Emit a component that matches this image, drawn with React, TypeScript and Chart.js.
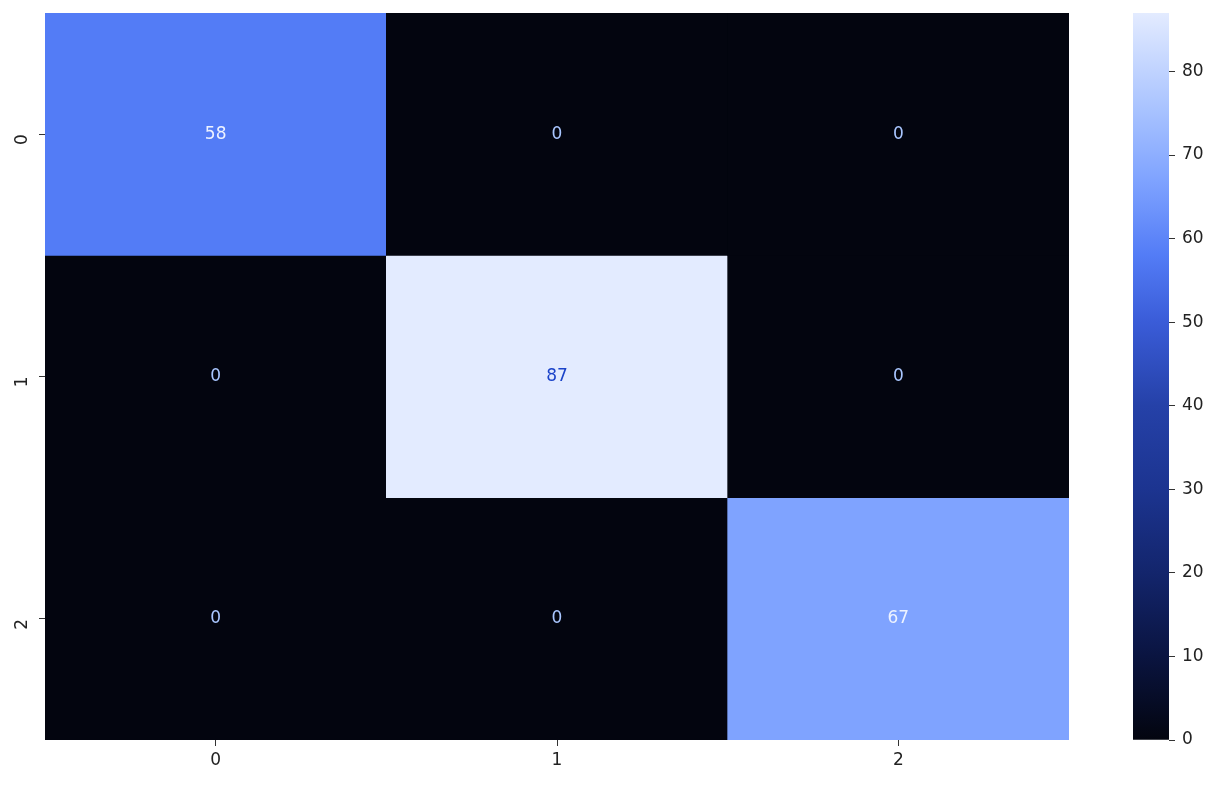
import React, { useEffect, useRef } from "react";
import { Chart, registerables } from "chart.js";

Chart.register(...registerables);

const colLabels = ["0", "1", "2"];
const rowLabels = ["0", "1", "2"];
const row0 = [58, 0, 0];
const row1 = [0, 87, 0];
const row2 = [0, 0, 67];
const matrix = [row0, row1, row2];
const vmin = 0;
const vmax = 87;
const cbarTicks = [0, 10, 20, 30, 40, 50, 60, 70, 80];
const cmapValues = [0, 10, 20, 30, 40, 50, 58, 67, 75, 87];
const cmapColors = [
  "#03050f",
  "#0a1440",
  "#13256c",
  "#1c3490",
  "#2541a8",
  "#3a5cd8",
  "#537cf6",
  "#7fa3ff",
  "#a6c1ff",
  "#e3ebff",
];

const FONT = "'DejaVu Sans', sans-serif";
const FS = 17;

function hexToRgb(h: string) {
  const n = parseInt(h.slice(1), 16);
  return [(n >> 16) & 255, (n >> 8) & 255, n & 255];
}
function colorFor(v: number) {
  if (v <= cmapValues[0]) return cmapColors[0];
  for (let i = 1; i < cmapValues.length; i++) {
    if (v <= cmapValues[i]) {
      const t = (v - cmapValues[i - 1]) / (cmapValues[i] - cmapValues[i - 1]);
      const a = hexToRgb(cmapColors[i - 1]);
      const b = hexToRgb(cmapColors[i]);
      const c = a.map((x, k) => Math.round(x + (b[k] - x) * t));
      return `rgb(${c[0]},${c[1]},${c[2]})`;
    }
  }
  return cmapColors[cmapColors.length - 1];
}
function textColorFor(v: number) {
  if (v === 0) return "#a9c6ff";
  if (v > 80) return "#1b43c9";
  return "#eef3ff";
}
function noPad(s: any) {
  s.paddingTop = 0;
  s.paddingBottom = 0;
  s.paddingLeft = 0;
  s.paddingRight = 0;
}

export default function App() {
  const mainRef = useRef<HTMLCanvasElement>(null);
  const cbRef = useRef<HTMLCanvasElement>(null);

  useEffect(() => {
    const annotPlugin = {
      id: "annot",
      afterDatasetsDraw(chart: any) {
        const ctx = chart.ctx;
        ctx.save();
        ctx.font = `${FS}px ${FONT}`;
        ctx.textAlign = "center";
        ctx.textBaseline = "middle";
        chart.data.datasets.forEach((ds: any, di: number) => {
          const meta = chart.getDatasetMeta(di);
          meta.data.forEach((el: any, ci: number) => {
            const v = matrix[di][ci];
            const cy = (el.y + el.base) / 2;
            ctx.fillStyle = textColorFor(v);
            ctx.fillText(String(v), el.x, cy);
          });
        });
        ctx.restore();
      },
    };

    const main = new Chart(mainRef.current!, {
      type: "bar",
      data: {
        labels: colLabels,
        datasets: matrix.map((row, r) => ({
          label: rowLabels[r],
          data: row.map(() => [r, r + 1]) as any,
          backgroundColor: row.map((v) => colorFor(v)),
          borderWidth: 0,
          barPercentage: 1,
          categoryPercentage: 1,
          grouped: false,
        })),
      },
      options: {
        animation: false,
        responsive: false,
        maintainAspectRatio: false,
        layout: { padding: { top: 13, right: 11, left: 0, bottom: 0 } },
        plugins: { legend: { display: false }, tooltip: { enabled: false } },
        scales: {
          x: {
            type: "category",
            offset: true,
            border: { display: false },
            grid: { drawOnChartArea: false, drawTicks: true, tickLength: 6, color: "#333333", offset: false },
            ticks: { color: "#222222", font: { family: FONT, size: FS }, padding: 4, maxRotation: 0 },
            afterFit(s: any) {
              s.height = 45;
              noPad(s);
            },
          },
          y: {
            type: "linear",
            min: 0,
            max: 3,
            reverse: true,
            border: { display: false },
            grid: { drawOnChartArea: false, drawTicks: true, tickLength: 6, color: "#333333" },
            afterBuildTicks(s: any) {
              s.ticks = rowLabels.map((_, i) => ({ value: i + 0.5 }));
            },
            ticks: {
              color: "#222222",
              font: { family: FONT, size: FS },
              minRotation: 90,
              maxRotation: 90,
              padding: 16,
              callback: (v: any) => rowLabels[Math.floor(Number(v))],
            },
            afterFit(s: any) {
              s.width = 45;
              noPad(s);
            },
          },
        },
      },
      plugins: [annotPlugin],
    } as any);

    const cb = new Chart(cbRef.current!, {
      type: "bar",
      data: {
        labels: [""],
        datasets: [
          {
            data: [[vmin, vmax]] as any,
            borderWidth: 0,
            barPercentage: 1,
            categoryPercentage: 1,
            backgroundColor: (c: any) => {
              const ca = c.chart.chartArea;
              if (!ca) return cmapColors[0];
              const ys = c.chart.scales.y;
              const g = c.chart.ctx.createLinearGradient(0, ys.getPixelForValue(vmin), 0, ys.getPixelForValue(vmax));
              cmapValues.forEach((v, i) => g.addColorStop((v - vmin) / (vmax - vmin), cmapColors[i]));
              return g;
            },
          },
        ],
      },
      options: {
        animation: false,
        responsive: false,
        maintainAspectRatio: false,
        layout: { padding: { top: 13, left: 43, right: 0, bottom: 45 } },
        plugins: { legend: { display: false }, tooltip: { enabled: false } },
        scales: {
          x: { display: false },
          y: {
            type: "linear",
            position: "right",
            min: vmin,
            max: vmax,
            border: { display: false },
            grid: { drawOnChartArea: false, drawTicks: true, tickLength: 6, color: "#333333" },
            afterBuildTicks(s: any) {
              s.ticks = cbarTicks.map((v) => ({ value: v }));
            },
            ticks: { color: "#222222", font: { family: FONT, size: FS }, padding: 7 },
            afterFit(s: any) {
              s.width = 51;
              noPad(s);
            },
          },
        },
      },
    } as any);

    return () => {
      main.destroy();
      cb.destroy();
    };
  }, []);

  return (
    <div style={{ position: "fixed", left: 0, top: 0, width: 1220, height: 785, background: "#ffffff" }}>
      <canvas ref={mainRef} width={1080} height={785} style={{ position: "absolute", left: 0, top: 0 }} />
      <canvas ref={cbRef} width={130} height={785} style={{ position: "absolute", left: 1090, top: 0 }} />
    </div>
  );
}
